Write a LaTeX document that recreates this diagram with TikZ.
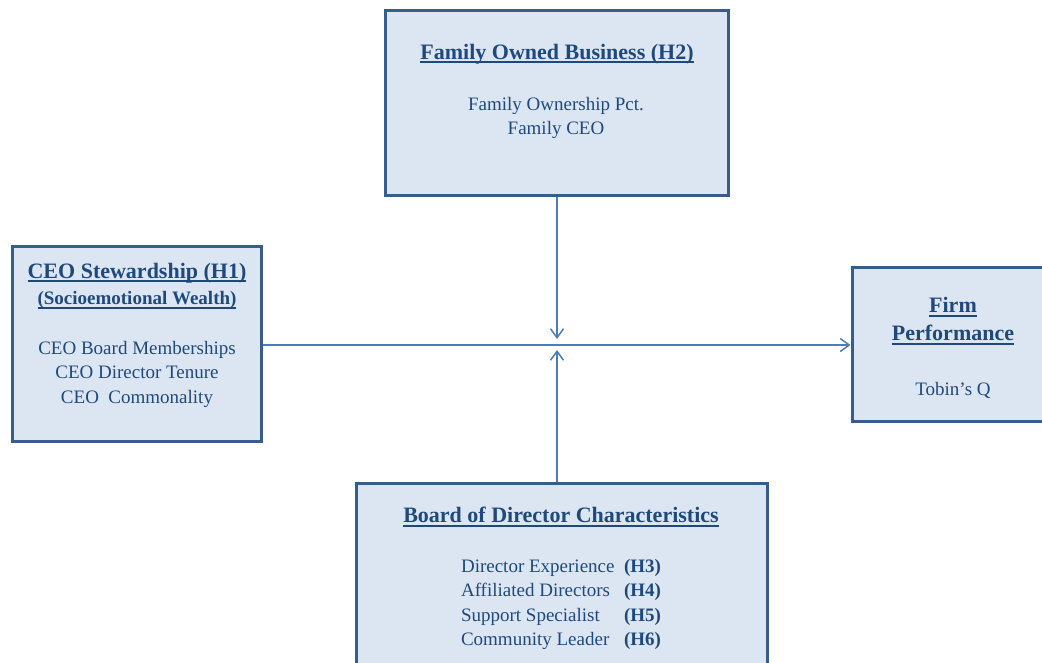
\documentclass[tikz,border=0pt]{standalone}
\usepackage{fontspec}
\setmainfont{Liberation Serif}
\definecolor{boxfill}{HTML}{DCE6F2}
\definecolor{boxline}{HTML}{385D8A}
\definecolor{txtblue}{HTML}{1F497D}
\definecolor{arrblue}{HTML}{4A7EBB}
\usetikzlibrary{arrows.meta}
\newsavebox{\ulbox}
\newcommand{\hdul}[1]{\sbox{\ulbox}{#1}\rlap{\rule[-4pt]{\wd\ulbox}{2pt}}\usebox{\ulbox}}
\begin{document}
\begin{tikzpicture}[x=1pt,y=-1pt,
  box/.style={draw=boxline,line width=3pt,fill=boxfill,rectangle},
  hd/.style={text=txtblue,font=\fontsize{22}{28}\selectfont\bfseries,align=center,inner sep=0pt},
  sub/.style={text=txtblue,font=\fontsize{19}{24}\selectfont\bfseries,inner sep=0pt},
  body/.style={text=txtblue,font=\fontsize{19}{24.5}\selectfont,align=center,inner sep=0pt},
  link/.style={draw=arrblue,line width=1.5pt,-{Straight Barb[length=9pt,width=13pt,line width=1.5pt]}}]
\useasboundingbox (0,0) rectangle (1042,662);
\clip (0,0) rectangle (1042,662);
% boxes
\node[box,minimum width=343pt,minimum height=185pt] (fob) at (556.5,102.5) {};
\node[box,minimum width=249pt,minimum height=195pt] (ceo) at (136.5,343.5) {};
\node[box,minimum width=196pt,minimum height=154pt] (fp) at (950,344) {};
\node[box,minimum width=411pt,minimum height=200pt] (bod) at (561.5,583) {};
% texts
\node[hd] (fobhd) at (557,54) {\hdul{Family Owned Business (H2)}};
\node[body] (fobtx) at (556,118) {Family Ownership Pct.\\Family CEO};
\node[hd] (ceohd) at (137,273) {\hdul{CEO Stewardship (H1)}};
\node[sub] (ceosub) at (137,300) {\hdul{(Socioemotional Wealth)}};
\node[body] (ceotx) at (137,374) {CEO Board Memberships\\CEO Director Tenure\\CEO\ \ Commonality};
\node[hd] (fphd) at (953,321) {\hdul{Firm}\\\hdul{Performance}};
\node[body] (fptx) at (953,390) {Tobin’s Q};
\node[hd] (bodhd) at (561,517) {\hdul{Board of Director Characteristics}};
\node[body] (bodtx) at (561,604) {\begin{tabular}{@{}l@{\ \ }l@{}}
Director Experience & \textbf{(H3)}\\
Affiliated Directors & \textbf{(H4)}\\
Support Specialist & \textbf{(H5)}\\
Community Leader & \textbf{(H6)}
\end{tabular}};
% connectors
\coordinate (mtop) at (557,339);
\coordinate (mbot) at (557,350);
\draw[link] (ceo.east |- 0,345) -- (fp.west |- 0,345);
\draw[link] (fob.south -| 557,0) -- (mtop);
\draw[link] (bod.north -| 557,0) -- (mbot);
\end{tikzpicture}
\end{document}
